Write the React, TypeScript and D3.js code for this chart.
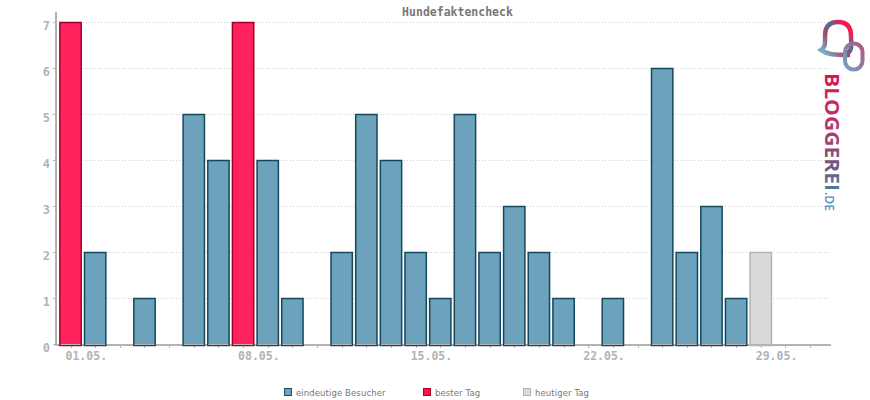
import * as React from "react";
import * as d3 from "d3";

const days: string[] = d3.range(1, 32).map((d: number) => String(d));
const visitors: number[] = [7, 2, 0, 1, 0, 5, 4, 7, 4, 1, 0, 2, 5, 4, 2, 1, 5, 2, 3, 2, 1, 0, 1, 0, 6, 2, 3, 1, 2, 0, 0];
const bestDays: string[] = ["1", "8"];
const today: string = "29";
const yTicks: number[] = [0, 1, 2, 3, 4, 5, 6, 7];
const xLabels: string[][] = [["1", "01.05."], ["8", "08.05."], ["15", "15.05."], ["22", "22.05."], ["29", "29.05."]];
const legendNames: string[] = ["eindeutige Besucher", "bester Tag", "heutiger Tag"];

const axisColor: string = "#b3b3b3";
const blue: string = "#6ca2bb";
const blueEdge: string = "#14485c";
const red: string = "#ff225c";
const redEdge: string = "#a3002f";
const grey: string = "#dadada";
const mono: string = "'DejaVu Sans Mono', monospace";

const width: number = 870;
const height: number = 400;

export default function App(): JSX.Element {
    const ref = React.useRef<SVGSVGElement>(null);

    React.useEffect(() => {
        const svg = d3.select(ref.current);
        svg.selectAll("*").remove();

        const x = d3.scaleBand<string>().domain(days).range([58.2, 822.4]).paddingInner(0.135).paddingOuter(0.0675);
        const y = d3.scaleLinear().domain([0, 7]).range([344.5, 22.5]);

        const defs = svg.append("defs");
        // the logo text is rotated, so this gradient runs along its local x
        const grad = defs.append("linearGradient").attr("id", "logoText")
            .attr("gradientUnits", "userSpaceOnUse").attr("x1", 0).attr("y1", 0).attr("x2", 118).attr("y2", 0);
        grad.append("stop").attr("offset", "0").attr("stop-color", "#e0124f");
        grad.append("stop").attr("offset", "0.45").attr("stop-color", "#b8356a");
        grad.append("stop").attr("offset", "0.75").attr("stop-color", "#75557f");
        grad.append("stop").attr("offset", "1").attr("stop-color", "#4d7ba3");
        const gradA = defs.append("linearGradient").attr("id", "logoBell")
            .attr("x1", "0").attr("y1", "1").attr("x2", "1").attr("y2", "0");
        gradA.append("stop").attr("offset", "0.1").attr("stop-color", "#74adc6");
        gradA.append("stop").attr("offset", "0.4").attr("stop-color", "#a8456f");
        gradA.append("stop").attr("offset", "0.62").attr("stop-color", "#4e7195");
        gradA.append("stop").attr("offset", "0.85").attr("stop-color", "#ff1450");
        const gradB = defs.append("linearGradient").attr("id", "logoRing")
            .attr("x1", "0").attr("y1", "1").attr("x2", "1").attr("y2", "0");
        gradB.append("stop").attr("offset", "0").attr("stop-color", "#6fa7c2");
        gradB.append("stop").attr("offset", "1").attr("stop-color", "#b0557f");

        // grid
        svg.append("g").selectAll("line").data(yTicks.slice(1)).enter().append("line")
            .attr("x1", 56).attr("x2", 830)
            .attr("y1", (d: number) => y(d)).attr("y2", (d: number) => y(d))
            .attr("stroke", "#cfcfcf").attr("stroke-width", 1).attr("stroke-dasharray", "1 2");

        // axes
        const xAxis = svg.append("g");
        xAxis.append("rect").attr("x", 55).attr("y", 344).attr("width", 776).attr("height", 2).attr("fill", axisColor);
        xAxis.selectAll("line").data(days).enter().append("line")
            .attr("x1", (d: string) => Math.round(x(d)! + x.bandwidth() / 2) + 0.5)
            .attr("x2", (d: string) => Math.round(x(d)! + x.bandwidth() / 2) + 0.5)
            .attr("y1", 346).attr("y2", 348).attr("stroke", axisColor);
        xAxis.selectAll("text").data(xLabels).enter().append("text")
            .attr("x", (d: string[]) => x(d[0])! + x.bandwidth() / 2 - 5)
            .attr("y", 360).attr("font-family", mono).attr("font-size", 11.5).attr("font-weight", "bold")
            .attr("fill", axisColor).text((d: string[]) => d[1]);

        const yAxis = svg.append("g");
        yAxis.append("rect").attr("x", 55).attr("y", 12).attr("width", 2).attr("height", 334).attr("fill", axisColor);
        yAxis.selectAll("line").data(yTicks).enter().append("line")
            .attr("x1", 53).attr("x2", 55)
            .attr("y1", (d: number) => y(d)).attr("y2", (d: number) => y(d)).attr("stroke", axisColor);
        yAxis.selectAll("text").data(yTicks).enter().append("text")
            .attr("x", 50).attr("y", (d: number) => y(d) + 7).attr("text-anchor", "end")
            .attr("font-family", mono).attr("font-size", 12).attr("font-weight", "bold")
            .attr("fill", axisColor).text((d: number) => d);

        // bars
        const fill = (day: string): string => day === today ? grey : bestDays.includes(day) ? red : blue;
        const edge = (day: string): string => day === today ? axisColor : bestDays.includes(day) ? redEdge : blueEdge;
        const shown = days.filter((d: string, i: number) => visitors[i] > 0);
        svg.append("g").selectAll("rect").data(shown).enter().append("rect")
            .attr("x", (d: string) => x(d))
            .attr("y", (d: string) => y(visitors[days.indexOf(d)]))
            .attr("width", x.bandwidth())
            .attr("height", (d: string) => y(0) + 1 - y(visitors[days.indexOf(d)]))
            .attr("fill", fill).attr("stroke", edge).attr("stroke-width", 1.5);
        // the axis line shows through at the foot of each bar
        svg.append("g").selectAll("line").data(shown).enter().append("line")
            .attr("x1", (d: string) => x(d)! + 0.75)
            .attr("x2", (d: string) => x(d)! + x.bandwidth() - 0.75)
            .attr("y1", y(0)).attr("y2", y(0))
            .attr("stroke", axisColor).attr("stroke-width", 1);

        // title
        svg.append("text").attr("x", 457.5).attr("y", 16).attr("text-anchor", "middle")
            .attr("font-family", mono).attr("font-size", 11.5).attr("font-weight", "bold")
            .attr("fill", "#777777").text("Hundefaktencheck");

        // legend
        const legendX = d3.scaleOrdinal<string, number>().domain(legendNames).range([284, 423, 523]);
        const swatchFill = d3.scaleOrdinal<string, string>().domain(legendNames).range([blue, "#ff0f48", grey]);
        const swatchEdge = d3.scaleOrdinal<string, string>().domain(legendNames).range([blueEdge, redEdge, axisColor]);
        const legend = svg.append("g").selectAll("g").data(legendNames).enter().append("g")
            .attr("transform", (d: string) => `translate(${legendX(d)},388)`);
        legend.append("rect").attr("x", 0.5).attr("y", 0.5).attr("width", 7).attr("height", 7)
            .attr("fill", (d: string) => swatchFill(d)).attr("stroke", (d: string) => swatchEdge(d));
        legend.append("text").attr("x", 12).attr("y", 7.5)
            .attr("font-family", "'DejaVu Sans', sans-serif").attr("font-size", 8.5)
            .attr("letter-spacing", 0.1).attr("fill", "#777777").text((d: string) => d);

        // logo
        const logo = svg.append("g");
        logo.append("path")
            .attr("d", "M846 53 C853 53 851 42 851 36 C851 26 846 22 838 22 C830 22 825 26 825 36 C825 42 826 47 821 50 C826 54 832 55 850 55")
            .attr("fill", "none").attr("stroke", "url(#logoBell)").attr("stroke-width", 4.5);
        logo.append("rect").attr("x", 845).attr("y", 43.5).attr("width", 17.5).attr("height", 26).attr("rx", 8.5)
            .attr("fill", "none").attr("stroke", "url(#logoRing)").attr("stroke-width", 4);
        logo.append("text").attr("transform", "translate(825,73) rotate(90)")
            .attr("font-family", "'Open Sans', sans-serif").attr("font-size", 20).attr("font-weight", "bold")
            .attr("fill", "url(#logoText)").attr("textLength", 118).attr("lengthAdjust", "spacingAndGlyphs").text("BLOGGEREI");
        logo.append("text").attr("transform", "translate(825,192) rotate(90)")
            .attr("font-family", "'Open Sans', sans-serif").attr("font-size", 12).attr("font-weight", 600)
            .attr("fill", "#4f97b8").attr("textLength", 19).attr("lengthAdjust", "spacingAndGlyphs").text(".DE");
    }, []);

    return <svg ref={ref} width={width} height={height}
        style={{ position: "absolute", left: 0, top: 0 }} />;
}
